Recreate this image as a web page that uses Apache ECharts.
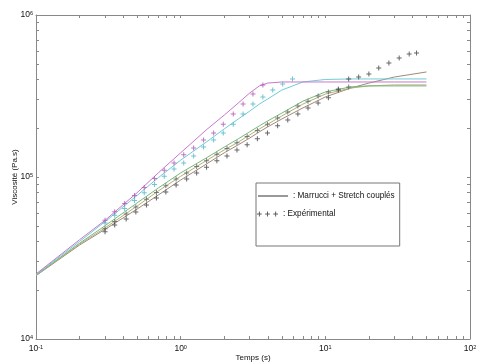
<!DOCTYPE html>
<html><head><meta charset="utf-8">
<script src="https://cdn.jsdelivr.net/npm/echarts@6/dist/echarts.min.js"></script>
<style>html,body{margin:0;padding:0;background:#fff}#c{width:478px;height:364px}</style>
</head><body><div id="c"></div>
<script>
// ---- data ----
const xTickLabels = [0.1, 1, 10, 100];
const yTickLabels = [1e4, 1e5, 1e6];

const timeModel = [0.1, 0.2, 0.3, 0.5, 0.7, 1, 1.5, 2, 2.5, 3, 3.5, 4, 5, 7, 10, 15, 20, 30, 50];
const modelMagenta = [2.52e4, 4.1e4, 5.4e4, 8.0e4, 1.06e5, 1.41e5, 1.95e5, 2.41e5, 2.86e5, 3.30e5, 3.65e5, 3.80e5, 3.86e5, 3.86e5, 3.86e5, 3.86e5, 3.86e5, 3.86e5, 3.86e5];
const modelCyan    = [2.5e4, 4.0e4, 5.3e4, 7.7e4, 9.9e4, 1.27e5, 1.64e5, 1.98e5, 2.28e5, 2.55e5, 2.82e5, 3.03e5, 3.44e5, 3.86e5, 4.0e5, 4.03e5, 4.03e5, 4.03e5, 4.03e5];
const modelGreen   = [2.48e4, 3.9e4, 5.0e4, 6.92e4, 8.55e4, 1.06e5, 1.31e5, 1.53e5, 1.72e5, 1.90e5, 2.07e5, 2.22e5, 2.48e5, 2.94e5, 3.35e5, 3.60e5, 3.65e5, 3.65e5, 3.65e5];
const modelOlive   = [2.47e4, 3.85e4, 4.85e4, 6.62e4, 8.2e4, 1.01e5, 1.26e5, 1.47e5, 1.64e5, 1.82e5, 1.98e5, 2.12e5, 2.38e5, 2.82e5, 3.25e5, 3.54e5, 3.65e5, 3.70e5, 3.70e5];
const modelBrown   = [2.46e4, 3.8e4, 4.75e4, 6.34e4, 7.74e4, 9.58e4, 1.20e5, 1.41e5, 1.58e5, 1.74e5, 1.90e5, 2.04e5, 2.28e5, 2.67e5, 3.12e5, 3.54e5, 3.80e5, 4.14e5, 4.45e5];

const timeExpMagenta = [0.3, 0.35, 0.41, 0.48, 0.56, 0.66, 0.77, 0.9, 1.05, 1.23, 1.44, 1.69, 1.97, 2.31, 2.7, 3.16, 3.7];
const expMagenta = [5.4e4, 6.1e4, 6.85e4, 7.7e4, 8.6e4, 9.8e4, 1.10e5, 1.22e5, 1.37e5, 1.51e5, 1.69e5, 1.87e5, 2.12e5, 2.45e5, 2.82e5, 3.25e5, 3.70e5];

const timeExpCyan = [0.3, 0.35, 0.41, 0.48, 0.56, 0.66, 0.77, 0.9, 1.05, 1.23, 1.44, 1.69, 1.97, 2.31, 2.7, 3.16, 3.7, 4.33, 5.07, 5.93];
const expCyan = [5.2e4, 5.8e4, 6.4e4, 7.15e4, 8.0e4, 9.0e4, 1.01e5, 1.12e5, 1.22e5, 1.35e5, 1.53e5, 1.69e5, 1.87e5, 2.12e5, 2.45e5, 2.82e5, 3.12e5, 3.44e5, 3.75e5, 4.03e5];

const timeExpDark = [0.30, 0.35, 0.42, 0.49, 0.58, 0.68, 0.79, 0.93, 1.10, 1.29, 1.51, 1.78, 2.09, 2.45, 2.88, 3.39, 3.98, 4.68, 5.50, 6.46, 7.59, 8.91, 10.5, 12.3, 14.5, 17.0, 20.0, 23.4, 27.5, 32.4, 38.0, 42.7];
const expDarkA = [4.6e4, 5.06e4, 5.51e4, 6.08e4, 6.71e4, 7.41e4, 8.07e4, 8.93e4, 9.72e4, 1.06e5, 1.15e5, 1.26e5, 1.35e5, 1.47e5, 1.58e5, 1.72e5, 1.87e5, 2.07e5, 2.25e5, 2.45e5, 2.67e5, 2.86e5, 3.08e5, 3.44e5, 4.03e5, 4.14e5, 4.32e5, 4.71e5, 5.06e5, 5.43e5, 5.74e5, 5.83e5];
const expDarkB = [4.8e4, 5.31e4, 5.92e4, 6.53e4, 7.28e4, 8.02e4, 8.83e4, 9.72e4, 1.06e5, 1.16e5, 1.26e5, 1.38e5, 1.50e5, 1.63e5, 1.78e5, 1.94e5, 2.12e5, 2.31e5, 2.52e5, 2.74e5, 2.94e5, 3.16e5, 3.35e5, 3.49e5, 3.60e5];

const NAME_MODEL = ': Marrucci + Stretch couplés';
const NAME_EXP = ': Expérimental';
const X_TITLE = 'Temps (s)';
const Y_TITLE = 'Viscosité (Pa.s)';

// ---- chart ----
const FONT = '"Liberation Sans", Arial, sans-serif';
const PLUS = 'path://M2,0h1v5h-1zM0,2h5v1h-5z';
const PLUS3 = 'path://M2,0h1v5h-1zM0,2h5v1h-5zM10.5,0h1v5h-1zM8.5,2h5v1h-5zM19,0h1v5h-1zM17,2h5v1h-5z';
const LINEICON = 'path://M0,0h30v1h-30z';

// tick positions in decades (1..9 x 10^e) for the log frame
function minorDecades(lo, hi) {
  const out = [];
  for (let e = lo; e < hi; e++) for (let m = 1; m < 10; m++) out.push(e + Math.log10(m));
  out.push(hi);
  return out;
}
const xMinor = minorDecades(-1, 2);
const yMinor = minorDecades(4, 6);
const supFmt = v => '{b|10}{s|' + Math.round(Math.log10(v)) + '}';
const rich = {
  b: {fontSize: 8.5, fontFamily: FONT, color: '#111'},
  s: {fontSize: 5.5, fontFamily: FONT, color: '#111', verticalAlign: 'top', padding: [0, 0, 4, 0]}
};
const frameLine = {show: true, onZero: false, lineStyle: {color: '#888', width: 1}};
const tickAxis = (vals, pos, lineShow, isX) => ({
  type: 'value', min: isX ? -1 : 4, max: isX ? 2 : 6, position: pos,
  axisLine: lineShow ? frameLine : {show: false, onZero: false},
  axisTick: {show: true, inside: true, length: 3, lineStyle: {color: '#888'}, customValues: vals},
  axisLabel: {show: false}, splitLine: {show: false}, silent: true
});

const zip = (t, v) => t.map((x, i) => [x, v[i]]);
function lineS(name, t, v, color) {
  return {type: 'line', name, data: zip(t, v), showSymbol: false, symbol: 'none',
    lineStyle: {color, width: 1}, itemStyle: {color}, silent: true, animation: false, z: 2};
}
function expS(name, t, v, color) {
  return {type: 'scatter', name, data: zip(t, v), symbol: PLUS, symbolSize: 5,
    itemStyle: {color}, silent: true, animation: false, z: 3};
}

const chart = echarts.init(document.getElementById('c'), null, {renderer: 'canvas'});
chart.setOption({
  backgroundColor: '#fff',
  animation: false,
  grid: {left: 36, top: 15, right: 8, bottom: 25, containLabel: false, outerBoundsMode: 'none'},
  xAxis: [
    {type: 'log', logBase: 10, min: 0.1, max: 100, position: 'bottom',
     name: X_TITLE, nameLocation: 'middle', nameGap: 15, nameMoveOverlap: false,
     nameTextStyle: {fontSize: 8, fontFamily: FONT, color: '#111'},
     axisLine: frameLine, axisTick: {show: false}, splitLine: {show: false}, minorTick: {show: false},
     axisLabel: {show: true, margin: 5, formatter: supFmt, rich, showMinLabel: true, showMaxLabel: true}},
    tickAxis(xMinor, 'bottom', false, true),
    tickAxis(xMinor, 'top', true, true)
  ],
  yAxis: [
    {type: 'log', logBase: 10, min: 1e4, max: 1e6, position: 'left',
     name: Y_TITLE, nameLocation: 'middle', nameGap: 17, nameRotate: 90, nameMoveOverlap: false,
     nameTextStyle: {fontSize: 8, fontFamily: FONT, color: '#111'},
     axisLine: frameLine, axisTick: {show: false}, splitLine: {show: false},
     axisLabel: {show: true, margin: 3, formatter: supFmt, rich}},
    tickAxis(yMinor, 'left', false, false),
    tickAxis(yMinor, 'right', true, false)
  ],
  legend: [
    {data: [{name: NAME_MODEL, icon: LINEICON}], left: 256, top: 183, orient: 'vertical',
     itemWidth: 30, itemHeight: 1, padding: [9, 5, 46, 2],
     borderColor: '#777', borderWidth: 1, backgroundColor: '#fff', selectedMode: false,
     textStyle: {fontSize: 8.2, fontFamily: FONT, color: '#111'}},
    {data: [{name: NAME_EXP, icon: PLUS3}], left: 257, top: 210, orient: 'vertical',
     itemWidth: 21, itemHeight: 5, padding: 0, selectedMode: false,
     textStyle: {fontSize: 8.2, fontFamily: FONT, color: '#111'}}
  ],
  series: [
    lineS('m1', timeModel, modelBrown, '#a08a7c'),
    lineS('m2', timeModel, modelOlive, '#b4ae7a'),
    lineS('m3', timeModel, modelGreen, '#78b87c'),
    lineS('m4', timeModel, modelCyan, '#70ccd6'),
    lineS('m5', timeModel, modelMagenta, '#c878cc'),
    expS('e1', timeExpDark, expDarkB, '#58605c'),
    expS('e2', timeExpDark, expDarkA, '#404040'),
    expS('e3', timeExpCyan, expCyan, '#4cb4c4'),
    expS('e4', timeExpMagenta, expMagenta, '#b050b4'),
    {type: 'line', name: NAME_MODEL, data: [], symbol: 'none', lineStyle: {color: '#333', width: 1}, itemStyle: {color: '#333'}},
    {type: 'scatter', name: NAME_EXP, data: [], symbol: PLUS, itemStyle: {color: '#333'}}
  ]
});
</script></body></html>
